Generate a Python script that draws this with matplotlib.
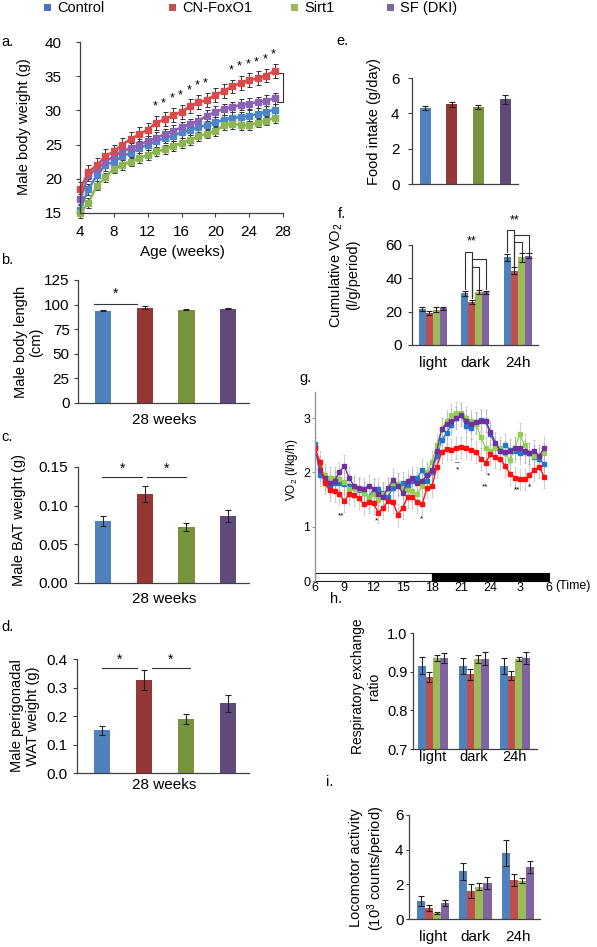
import matplotlib
matplotlib.use('Agg')
import matplotlib.pyplot as plt
from matplotlib.patches import Rectangle
import numpy as np

plt.rcParams['font.family'] = ['Liberation Sans', 'DejaVu Sans']
plt.rcParams['mathtext.default'] = 'regular'

# ---------------- data ----------------
groups = ['Control', 'CN-FoxO1', 'Sirt1', 'SF (DKI)']

weeks = list(range(4, 28))
bw_control = [15.5, 18.5, 20.5, 22.0, 22.5, 23.3, 23.8, 24.5, 25.0, 25.5, 26.0, 26.3,
              26.8, 27.2, 27.5, 27.9, 28.3, 28.6, 28.9, 29.0, 29.2, 29.5, 29.8, 30.1]
bw_foxo1 = [18.5, 21.0, 22.0, 23.3, 24.0, 25.0, 25.8, 26.5, 27.2, 28.2, 28.7, 29.3,
            29.8, 30.6, 31.2, 31.5, 32.3, 32.8, 33.5, 34.0, 34.4, 34.7, 35.1, 35.8]
bw_sirt1 = [15.0, 16.5, 19.0, 20.2, 21.5, 22.0, 22.5, 23.0, 23.5, 24.0, 24.3, 24.8,
            25.2, 25.7, 26.2, 26.6, 27.0, 27.8, 28.0, 27.9, 27.8, 28.2, 28.5, 28.9]
bw_dki = [17.0, 20.5, 21.5, 22.5, 23.3, 24.0, 24.5, 25.0, 25.5, 26.0, 26.5, 27.0,
          27.5, 28.0, 28.5, 29.2, 29.8, 30.2, 30.5, 30.8, 31.0, 31.2, 31.4, 31.8]
bw_err = [0.8, 1.0, 0.7, 0.8]
bw_star_weeks = [13, 14, 15, 16, 17, 18, 19, 22, 23, 24, 25, 26, 27]

length_mean = [94, 97, 95, 96]
length_err = [0.6, 1.2, 0.9, 0.6]
bat_mean = [0.080, 0.115, 0.072, 0.087]
bat_err = [0.006, 0.010, 0.005, 0.008]
wat_mean = [0.150, 0.325, 0.190, 0.245]
wat_err = [0.015, 0.035, 0.017, 0.030]
food_mean = [4.3, 4.5, 4.35, 4.8]
food_err = [0.12, 0.15, 0.10, 0.25]

periods = ['light', 'dark', '24h']
vo2_cum = {'Control': [21.5, 31.0, 52.5], 'CN-FoxO1': [19.0, 26.0, 44.5],
           'Sirt1': [21.0, 31.5, 52.5], 'SF (DKI)': [22.0, 31.5, 53.5]}
vo2_cum_err = {'Control': [1.0, 1.5, 2.0], 'CN-FoxO1': [1.2, 1.2, 2.0],
               'Sirt1': [1.5, 1.2, 2.5], 'SF (DKI)': [1.0, 1.0, 1.5]}

rer = {'Control': [0.915, 0.915, 0.915], 'CN-FoxO1': [0.887, 0.893, 0.890],
       'Sirt1': [0.935, 0.933, 0.933], 'SF (DKI)': [0.935, 0.933, 0.935]}
rer_err = {'Control': [0.022, 0.020, 0.020], 'CN-FoxO1': [0.013, 0.015, 0.012],
           'Sirt1': [0.007, 0.010, 0.006], 'SF (DKI)': [0.013, 0.017, 0.015]}

loco = {'Control': [1.05, 2.75, 3.8], 'CN-FoxO1': [0.65, 1.6, 2.25],
        'Sirt1': [0.35, 1.85, 2.2], 'SF (DKI)': [0.92, 2.1, 3.0]}
loco_err = {'Control': [0.3, 0.5, 0.75], 'CN-FoxO1': [0.18, 0.4, 0.35],
            'Sirt1': [0.08, 0.2, 0.15], 'SF (DKI)': [0.15, 0.35, 0.35]}

# VO2 time course: hours after 6:00, every 30 min
hours = [i * 0.5 for i in range(48)]
vo2_control = [2.52, 1.95, 1.85, 1.75, 1.80, 1.80, 1.78, 1.75, 1.72, 1.68, 1.62, 1.55,
               1.68, 1.70, 1.62, 1.55, 1.72, 1.78, 1.80, 1.75, 1.85, 1.90, 2.05, 1.85,
               2.00, 2.30, 2.60, 2.72, 2.88, 3.00, 3.05, 2.85, 2.82, 2.90, 2.97, 2.95,
               2.70, 2.50, 2.40, 2.50, 2.42, 2.40, 2.35, 2.38, 2.35, 2.28, 2.25, 2.15]
vo2_foxo1 = [2.45, 2.20, 1.80, 1.67, 1.65, 1.60, 1.47, 1.60, 1.58, 1.52, 1.42, 1.45,
             1.43, 1.26, 1.35, 1.48, 1.45, 1.22, 1.35, 1.55, 1.55, 1.45, 1.42, 1.72,
             1.75, 2.10, 2.38, 2.43, 2.42, 2.45, 2.46, 2.44, 2.42, 2.38, 2.25, 2.18,
             2.33, 2.28, 2.25, 2.12, 1.97, 1.90, 1.87, 1.87, 1.95, 2.05, 2.10, 1.92]
vo2_sirt1 = [2.45, 2.10, 1.95, 1.90, 1.90, 1.88, 1.82, 1.70, 1.72, 1.70, 1.62, 1.55,
             1.60, 1.50, 1.60, 1.70, 1.80, 1.78, 1.72, 1.68, 1.65, 1.60, 1.75, 2.00,
             2.20, 2.50, 2.80, 2.95, 3.05, 3.10, 3.10, 3.00, 2.95, 2.90, 2.65, 2.45,
             2.40, 2.45, 2.45, 2.35, 2.22, 2.45, 2.70, 2.50, 2.35, 2.30, 2.30, 2.35]
vo2_dki = [2.45, 2.05, 1.90, 1.80, 1.85, 2.00, 2.12, 1.90, 1.75, 1.72, 1.70, 1.75,
           1.70, 1.60, 1.55, 1.72, 1.86, 1.75, 1.62, 1.85, 1.90, 1.80, 1.85, 1.95,
           2.05, 2.40, 2.80, 2.90, 2.95, 3.00, 3.05, 2.95, 2.90, 2.92, 2.95, 2.95,
           2.75, 2.55, 2.40, 2.38, 2.40, 2.45, 2.45, 2.40, 2.35, 2.40, 2.30, 2.45]
vo2_err = 0.2
g_stars = [(2.7, 1.2, '**'), (6.3, 1.1, '*'), (10.9, 1.15, '*'), (14.6, 2.05, '*'),
           (17.4, 1.74, '**'), (17.8, 1.93, '*'), (20.7, 1.68, '**'), (22.0, 1.74, '*')]
time_ticks = [0, 3, 6, 9, 12, 15, 18, 21, 24]
time_labels = ['6', '9', '12', '15', '18', '21', '24', '3', '6']

# ---------------- colours ----------------
leg_cols = ['#4472C4', '#C0504D', '#9BBB59', '#8064A2']
line_cols = ['#4A86C8', '#D64B4B', '#8DB652', '#8A63B5']
dark_bar_cols = ['#4F81BD', '#953735', '#77933C', '#604A7B']
bar_cols = ['#4F81BD', '#C0504D', '#9BBB59', '#8064A2']
g_cols = ['#1F77D0', '#FF1010', '#92D050', '#7030A0']
spine_col = '#404040'

W, H = 597, 947
fig = plt.figure(figsize=(W / 100, H / 100), dpi=100)


def add_ax(l, t, r, b):
    return fig.add_axes([l / W, 1 - b / H, (r - l) / W, (b - t) / H])


def style(ax, pad=3, length=3, labelsize=10.5):
    for s in ['top', 'right']:
        ax.spines[s].set_visible(False)
    for s in ['left', 'bottom']:
        ax.spines[s].set_color(spine_col)
        ax.spines[s].set_linewidth(0.9)
    ax.tick_params(axis='y', direction='out', length=length, width=0.8, pad=pad,
                   labelsize=labelsize, color=spine_col)
    ax.tick_params(axis='x', direction='out', length=0, labelsize=labelsize, color=spine_col)


def ylab(ax, text, x, y, size=10.5):
    ax.set_ylabel(text, fontsize=size, linespacing=1.1)
    ax.yaxis.set_label_coords(x / W, 1 - y / H, transform=fig.transFigure)
    ax.yaxis.label.set_verticalalignment('center')


def xlab(ax, text, x, y, size=11):
    ax.set_xlabel(text, fontsize=size)
    ax.xaxis.set_label_coords(x / W, 1 - y / H, transform=fig.transFigure)
    ax.xaxis.label.set_verticalalignment('center')


def panel_label(t, x, y):
    fig.text(x / W, 1 - y / H, t, fontsize=10.5, ha='left', va='center')


# ---------------- legend ----------------
for i, (name, px) in enumerate(zip(groups, [47, 172, 294, 390])):
    fig.add_artist(Rectangle(((px - 3.5) / W, 1 - 11.5 / H), 7 / W, 7 / H,
                             transform=fig.transFigure, color=leg_cols[i], lw=0))
    fig.text((px + 10) / W, 1 - 8 / H, name, fontsize=10.5, ha='left', va='center')

# ---------------- a ----------------
ax = add_ax(80, 42, 283, 213)
style(ax, pad=10, length=3, labelsize=11)
ax.tick_params(axis='x', length=3, pad=6, labelsize=11)
series_a = [bw_control, bw_foxo1, bw_sirt1, bw_dki]
for order in [0, 2, 3, 1]:
    lines = ax.errorbar(weeks, series_a[order], yerr=bw_err[order], color=line_cols[order],
                        marker='s', markersize=4.8, lw=1.8, ecolor='#333333', elinewidth=0.7,
                        capsize=1.8, capthick=0.7)
    for art in lines.get_children():
        art.set_clip_on(False)
for wk in bw_star_weeks:
    v = bw_foxo1[weeks.index(wk)]
    ax.text(wk - 0.15, v + bw_err[1] + 0.5, '*', fontsize=9, ha='center', va='bottom')
ax.plot([27.3, 28, 28, 27.3], [35.5, 35.5, 31.3, 31.3], color='#333333', lw=0.8,
        clip_on=False)
ax.set_xlim(4, 28)
ax.set_ylim(15, 40)
ax.set_xticks([4, 8, 12, 16, 20, 24, 28])
ax.set_yticks([15, 20, 25, 30, 35, 40])
ylab(ax, 'Male body weight (g)', 24, 127)
xlab(ax, 'Age (weeks)', 182, 252)
panel_label('a.', 1, 42)

# ---------------- b, c, d ----------------
xpos = np.arange(4)


def bar_panel(top, bottom, left, means, errs, ylim, yticks, fmt, label, lx, ly, wy, pad):
    ax = add_ax(left, top, 249, bottom)
    style(ax, pad=pad, length=3, labelsize=11)
    ax.bar(xpos, means, width=0.39, color=dark_bar_cols, yerr=errs,
           error_kw=dict(ecolor='#222222', elinewidth=0.8, capsize=2.5, capthick=0.8))
    ax.set_xlim(-0.6, 3.5)
    ax.set_ylim(*ylim)
    ax.set_yticks(yticks)
    ax.set_yticklabels([fmt.format(v) for v in yticks])
    ax.set_xticks([])
    ylab(ax, label, lx, ly)
    xlab(ax, '28 weeks', 164, wy)
    return ax


axb = bar_panel(280, 403, 78, length_mean, length_err, (0, 125), [0, 25, 50, 75, 100, 125],
                '{:g}', 'Male body length\n(cm)', 29, 342, 420, 3)
axb.plot([-0.22, 0.82], [101, 101], color='#333333', lw=0.8)
axb.text(0.3, 104, '*', fontsize=10, ha='center', va='bottom')
panel_label('b.', 1, 260)

axc = bar_panel(467, 583, 78, bat_mean, bat_err, (0, 0.15), [0, 0.05, 0.10, 0.15],
                '{:.2f}', 'Male BAT weight (g)', 19, 520, 599, 4)
axc.plot([-0.02, 0.94], [0.137, 0.137], color='#333333', lw=0.8)
axc.plot([1.06, 2.0], [0.137, 0.137], color='#333333', lw=0.8)
axc.text(0.46, 0.139, '*', fontsize=10, ha='center', va='bottom')
axc.text(1.53, 0.139, '*', fontsize=10, ha='center', va='bottom')
panel_label('c.', 1, 437)

axd = bar_panel(659, 773, 77, wat_mean, wat_err, (0, 0.4), [0, 0.1, 0.2, 0.3, 0.4],
                '{:.1f}', 'Male perigonadal\nWAT weight (g)', 25, 716, 785, 4)
axd.plot([0.0, 0.82], [0.368, 0.368], color='#333333', lw=0.8)
axd.plot([1.18, 2.1], [0.368, 0.368], color='#333333', lw=0.8)
axd.text(0.41, 0.372, '*', fontsize=10, ha='center', va='bottom')
axd.text(1.64, 0.372, '*', fontsize=10, ha='center', va='bottom')
panel_label('d.', 1, 627)

# ---------------- e ----------------
axe = add_ax(412, 78, 518, 184)
style(axe, pad=6, length=3, labelsize=11)
axe.bar(xpos, food_mean, width=0.41, color=dark_bar_cols, yerr=food_err,
        error_kw=dict(ecolor='#222222', elinewidth=0.8, capsize=2.5, capthick=0.8))
axe.set_xlim(-0.49, 3.48)
axe.set_ylim(0, 6)
axe.set_yticks([0, 2, 4, 6])
axe.set_xticks([])
ylab(axe, 'Food intake (g/day)', 374, 122)
panel_label('e.', 336, 41)


# ---------------- grouped bar helper ----------------
def grouped(ax, data, errs, w):
    gx = np.arange(3)
    offs = [-1.5, -0.5, 0.5, 1.5]
    for i, gname in enumerate(groups):
        ax.bar(gx + offs[i] * w, data[gname], width=w, color=bar_cols[i], yerr=errs[gname],
               error_kw=dict(ecolor='#222222', elinewidth=0.8, capsize=2, capthick=0.8))
    ax.set_xticks(gx)
    ax.set_xticklabels(periods)
    return [gx + o * w for o in offs]


# ---------------- f ----------------
axf = add_ax(412, 245, 538, 345)
style(axf, pad=4, length=3, labelsize=11)
axf.tick_params(axis='x', pad=8)
wf = 0.165
bx = grouped(axf, vo2_cum, vo2_cum_err, wf)
axf.set_xlim(-0.49, 2.47)
axf.set_ylim(0, 60)
axf.set_yticks([0, 20, 40, 60])


def bracket(ax, x1, x2, top, b1, b2):
    ax.plot([x1, x1, x2, x2], [b1, top, top, b2], color='#333333', lw=0.8, clip_on=False)


bracket(axf, bx[0][1], bx[1][1], 56, 33.5, 28.2)
bracket(axf, bx[1][1], bx[3][1], 51.4, 28.2, 33.5)
bracket(axf, bx[1][1], bx[2][1], 47, 28.2, 33.7)
axf.text(bx[1][1], 58.5, '**', fontsize=9, ha='center', va='bottom', clip_on=False)
bracket(axf, bx[0][2], bx[1][2], 69, 55.5, 47.5)
bracket(axf, bx[1][2], bx[3][2], 66, 47.5, 55.8)
bracket(axf, bx[1][2], bx[2][2], 62, 47.5, 55.8)
axf.text(bx[1][2], 71, '**', fontsize=9, ha='center', va='bottom', clip_on=False)
ylab(axf, 'Cumulative VO$_2$\n(l/g/period)', 344, 275)
panel_label('f.', 338, 214)

# ---------------- g ----------------
axg = add_ax(315, 392, 549, 581)
for s in ['top', 'right', 'bottom']:
    axg.spines[s].set_visible(False)
axg.spines['left'].set_color('#9a9a9a')
axg.spines['left'].set_linewidth(1.0)
axg.tick_params(axis='y', direction='out', length=2, width=0.8, pad=1.5, labelsize=9,
                color='#9a9a9a')
axg.tick_params(axis='x', length=0, pad=0.5, labelsize=9)
series_g = [vo2_control, vo2_sirt1, vo2_dki, vo2_foxo1]
cols_g = [g_cols[0], g_cols[2], g_cols[3], g_cols[1]]
for s, c in zip(series_g, cols_g):
    axg.errorbar(hours, s, yerr=vo2_err, color=c, marker='s', markersize=2.6, lw=1.0,
                 ecolor='#b4b4b4', elinewidth=0.45, capsize=0.8, capthick=0.45)
for hx, hy, t in g_stars:
    axg.text(hx, hy, t, fontsize=6, ha='center', va='center')
axg.text(14.6, 2.17, '–', fontsize=6, ha='center', va='center')
axg.add_patch(Rectangle((0, 0), 12, 0.14, facecolor='white', edgecolor='#222222', lw=0.8,
                        clip_on=False))
axg.add_patch(Rectangle((12, 0), 12, 0.14, facecolor='black', edgecolor='black', lw=0.8,
                        clip_on=False))
axg.set_xlim(0, 24)
axg.set_ylim(0, 3.48)
axg.set_yticks([0, 1, 2, 3])
axg.set_xticks(time_ticks)
axg.set_xticklabels(time_labels)
axg.text(555 / W, 1 - 586 / H, '(Time)', transform=fig.transFigure, fontsize=9,
         ha='left', va='center')
ylab(axg, 'VO$_2$ (l/kg/h)', 292, 470, size=8.5)
panel_label('g.', 299, 378)

# ---------------- h ----------------
axh = add_ax(413, 633, 537, 749)
style(axh, pad=2, length=2, labelsize=10.5)
axh.tick_params(axis='x', pad=1)
grouped(axh, rer, rer_err, 0.18)
axh.set_xlim(-0.49, 2.54)
axh.set_ylim(0.7, 1.0)
axh.set_yticks([0.7, 0.8, 0.9, 1.0])
axh.set_yticklabels(['0.7', '0.8', '0.9', '1.0'])
ylab(axh, 'Respiratory exchange\nratio', 366, 686, size=10)
panel_label('h.', 330, 599)

# ---------------- i ----------------
axi = add_ax(409, 815, 540, 919)
style(axi, pad=2, length=2, labelsize=11)
axi.tick_params(axis='x', pad=8)
grouped(axi, loco, loco_err, 0.19)
axi.set_xlim(-0.56, 2.52)
axi.set_ylim(0, 6)
axi.set_yticks([0, 2, 4, 6])
ylab(axi, 'Locomotor activity\n(10$^3$ counts/period)', 368, 868)
panel_label('i.', 326, 782)

fig.savefig('out.png', dpi=100)
